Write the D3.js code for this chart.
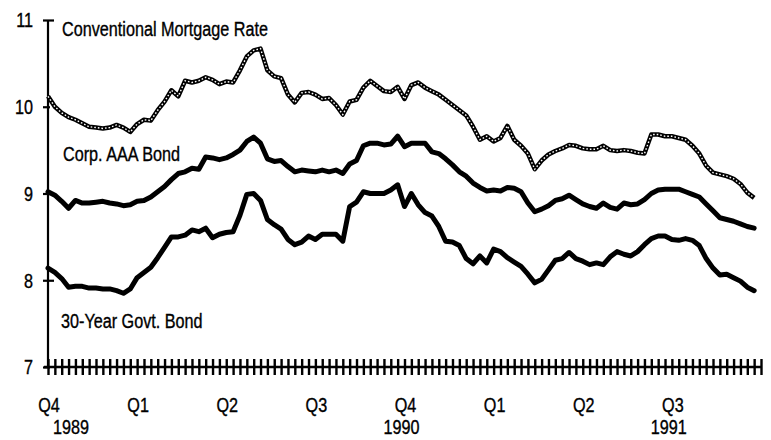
<!DOCTYPE html>
<html>
<head>
<meta charset="utf-8">
<script src="https://d3js.org/d3.v7.min.js"></script>
<style>
  body { margin: 0; background: #fff; }
  text { font-family: "Liberation Sans", Arial, sans-serif; fill: #000; stroke: #000; stroke-width: 0.35px; }
</style>
</head>
<body>
<script>
// weekly yields, Q4 1989 .. Q3 1991 (104 weeks)
var mortgage = [
  10.12, 10.00, 9.93, 9.88, 9.85, 9.81, 9.77, 9.76, 9.75, 9.76, 9.79, 9.76, 9.71,
  9.80, 9.85, 9.84, 9.96, 10.06, 10.19, 10.12, 10.30, 10.28, 10.30, 10.34, 10.31, 10.26,
  10.29, 10.28, 10.42, 10.58, 10.65, 10.67, 10.42, 10.35, 10.33, 10.14, 10.05, 10.16, 10.17,
  10.14, 10.09, 10.10, 10.02, 9.91, 10.06, 10.08, 10.22, 10.30, 10.24, 10.18, 10.17, 10.23,
  10.09, 10.25, 10.28, 10.22, 10.18, 10.14, 10.08, 10.02, 9.96, 9.90, 9.77, 9.62, 9.66,
  9.60, 9.64, 9.78, 9.62, 9.55, 9.46, 9.28, 9.38, 9.45, 9.49, 9.52, 9.56, 9.55,
  9.52, 9.51, 9.51, 9.55, 9.50, 9.49, 9.50, 9.49, 9.47, 9.46, 9.68, 9.68, 9.66,
  9.66, 9.64, 9.62, 9.55, 9.46, 9.32, 9.24, 9.22, 9.20, 9.17, 9.11, 9.01, 8.95
];
var corpAAA = [
  9.02, 8.98, 8.91, 8.83, 8.92, 8.89, 8.89, 8.90, 8.91, 8.89, 8.88, 8.86, 8.87,
  8.91, 8.92, 8.96, 9.02, 9.08, 9.16, 9.23, 9.25, 9.29, 9.28, 9.42, 9.41, 9.39,
  9.41, 9.45, 9.50, 9.60, 9.65, 9.58, 9.40, 9.37, 9.38, 9.31, 9.25, 9.27, 9.26,
  9.25, 9.27, 9.25, 9.27, 9.23, 9.34, 9.38, 9.55, 9.58, 9.58, 9.56, 9.57, 9.66,
  9.54, 9.58, 9.58, 9.58, 9.48, 9.46, 9.40, 9.33, 9.25, 9.20, 9.12, 9.07, 9.03,
  9.04, 9.03, 9.07, 9.06, 9.02, 8.89, 8.79, 8.82, 8.86, 8.92, 8.94, 8.98, 8.93,
  8.88, 8.85, 8.83, 8.89, 8.84, 8.82, 8.89, 8.87, 8.88, 8.93, 9.00, 9.04, 9.05,
  9.05, 9.05, 9.02, 8.99, 8.96, 8.88, 8.80, 8.72, 8.70, 8.68, 8.65, 8.62, 8.60
];
var govt30 = [
  8.14, 8.09, 8.02, 7.92, 7.93, 7.93, 7.91, 7.91, 7.90, 7.90, 7.88, 7.85, 7.90,
  8.03, 8.09, 8.15, 8.26, 8.38, 8.50, 8.50, 8.52, 8.58, 8.56, 8.60, 8.49, 8.53,
  8.55, 8.56, 8.75, 8.99, 9.00, 8.92, 8.70, 8.64, 8.59, 8.47, 8.41, 8.44, 8.51,
  8.47, 8.53, 8.53, 8.53, 8.45, 8.85, 8.90, 9.02, 9.00, 9.00, 9.00, 9.04, 9.10,
  8.85, 9.00, 8.87, 8.78, 8.74, 8.62, 8.45, 8.44, 8.40, 8.25, 8.19, 8.28, 8.20,
  8.36, 8.33, 8.26, 8.21, 8.16, 8.07, 7.97, 8.01, 8.12, 8.23, 8.25, 8.32, 8.25,
  8.22, 8.18, 8.20, 8.18, 8.27, 8.33, 8.30, 8.28, 8.33, 8.41, 8.48, 8.51, 8.51,
  8.47, 8.46, 8.48, 8.46, 8.40, 8.25, 8.14, 8.06, 8.07, 8.03, 7.99, 7.92, 7.88
];
var seriesLabels = ["Conventional Mortgage Rate", "Corp. AAA Bond", "30-Year Govt. Bond"];
var yTicks = [7, 8, 9, 10, 11];
var quarterLabels = ["Q4", "Q1", "Q2", "Q3", "Q4", "Q1", "Q2", "Q3"];
var yearLabels = [{q: 0, text: "1989"}, {q: 4, text: "1990"}, {q: 7, text: "1991"}];

var width = 771, height = 440;
var fontSize = 19.5;
var x = d3.scaleLinear().domain([0, 104]).range([48, 761]);
var y = d3.scaleLinear().domain([7, 11]).range([367, 20]);

var svg = d3.select("body").append("svg")
    .attr("width", width)
    .attr("height", height);

// squeeze text to a narrow face (no condensed font installed)
function narrow(sel) {
    sel.each(function() {
        var len = this.getComputedTextLength();
        d3.select(this).attr("textLength", len * 0.83).attr("lengthAdjust", "spacingAndGlyphs");
    });
}

var line = d3.line()
    .x(function(d, i) { return x(i); })
    .y(function(d) { return y(d); });

// y axis
var yAxis = svg.append("g")
    .attr("transform", "translate(48,0)")
    .call(d3.axisLeft(y).tickValues(yTicks).tickSize(5).tickPadding(10).tickFormat(d3.format("d")));
yAxis.select(".domain").attr("stroke-width", 2.2).attr("d", "M0," + y(11) + "V" + y(7));
yAxis.selectAll(".tick line").attr("x1", -5).attr("x2", function(d) { return d === 11 || d === 8 ? 6 : 2; })
    .attr("stroke-width", 2.2);
yAxis.selectAll(".tick text").attr("font-size", fontSize).attr("font-family", null)
    .attr("fill", null).attr("dy", "0.35em").call(narrow);

// x axis: one tick per week
var xAxis = svg.append("g")
    .attr("transform", "translate(0," + y(7) + ")")
    .call(d3.axisBottom(x).tickValues(d3.range(0, 105)).tickSize(0).tickFormat(""));
xAxis.select(".domain").attr("stroke-width", 2.4).attr("d", "M44,0H" + x(104));
xAxis.selectAll(".tick line").attr("y1", -8).attr("y2", 8).attr("stroke-width", 2.4);

svg.append("g").selectAll("text")
    .data(quarterLabels)
    .join("text")
    .attr("x", function(d, i) { return x(i * 13) + 1; })
    .attr("y", 412)
    .attr("text-anchor", "middle")
    .attr("font-size", fontSize)
    .text(function(d) { return d; })
    .call(narrow);

svg.append("g").selectAll("text")
    .data(yearLabels)
    .join("text")
    .attr("x", function(d) { return d.q === 0 ? x(0) + 5 : x(d.q * 13) - 3; })
    .attr("y", 434)
    .attr("text-anchor", function(d) { return d.q === 0 ? "start" : "middle"; })
    .attr("font-size", fontSize)
    .text(function(d) { return d.text; })
    .call(narrow);

// lines
[govt30, corpAAA].forEach(function(s) {
    svg.append("path").datum(s)
        .attr("d", line).attr("fill", "none").attr("stroke", "#000")
        .attr("stroke-width", 5).attr("stroke-linejoin", "round").attr("stroke-linecap", "round");
});
// mortgage: hatched chain look
svg.append("path").datum(mortgage)
    .attr("d", line).attr("fill", "none").attr("stroke", "#000")
    .attr("stroke-width", 4.5).attr("stroke-linejoin", "round");
svg.append("path").datum(mortgage)
    .attr("d", line).attr("fill", "none").attr("stroke", "#fff")
    .attr("stroke-width", 1.4).attr("stroke-dasharray", "1.6,2");

// series labels
var labelPos = [[62, 36], [63, 161], [61, 328]];
svg.append("g").selectAll("text")
    .data(seriesLabels)
    .join("text")
    .attr("x", function(d, i) { return labelPos[i][0]; })
    .attr("y", function(d, i) { return labelPos[i][1]; })
    .attr("font-size", fontSize)
    .text(function(d) { return d; })
    .call(narrow);
</script>
</body>
</html>
